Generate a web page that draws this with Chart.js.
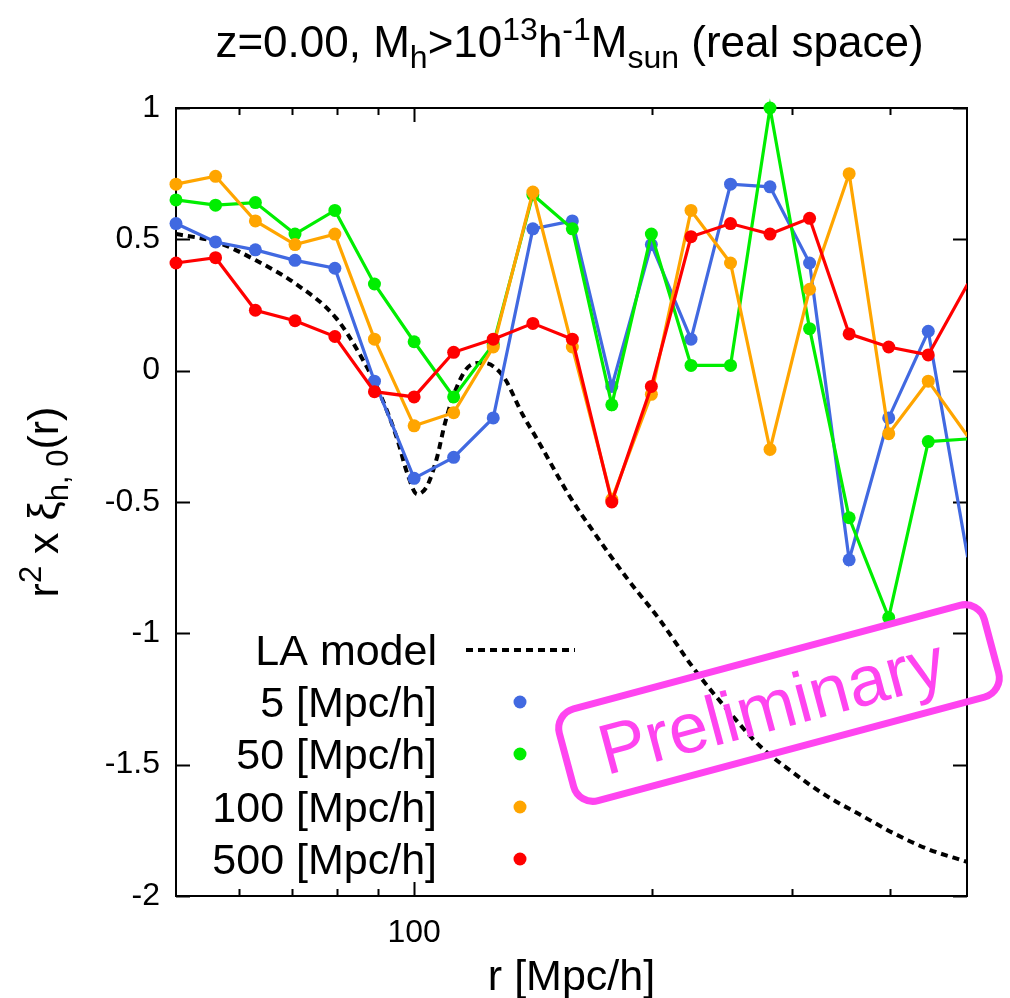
<!DOCTYPE html>
<html>
<head>
<meta charset="utf-8">
<script src="https://cdn.jsdelivr.net/npm/chart.js@4.4.1/dist/chart.umd.min.js"></script>
<style>
  body { margin: 0; background: #fff; }
  canvas { display: block; }
</style>
</head>
<body>
<canvas id="myChart" width="1010" height="998"></canvas>
<script>
// r bins [Mpc/h] (log spaced), the last one sits just past the axis end
const rBins = [50, 56.1, 63.0, 70.7, 79.4, 89.1, 100, 112.2, 125.9, 141.3, 158.5,
  177.8, 199.5, 223.9, 251.2, 281.8, 316.2, 354.8, 398.1, 446.7, 501];

// r^2 x xi for each smoothing scale
const xi5 = [0.56, 0.49, 0.46, 0.42, 0.39, -0.04, -0.41, -0.33, -0.18, 0.54, 0.57,
  -0.06, 0.48, 0.12, 0.71, 0.70, 0.41, -0.72, -0.18, 0.15, -0.71];
const xi50 = [0.65, 0.63, 0.64, 0.52, 0.61, 0.33, 0.11, -0.10, 0.10, 0.67, 0.54,
  -0.13, 0.52, 0.02, 0.02, 1.00, 0.16, -0.56, -0.94, -0.27, -0.26];
const xi100 = [0.71, 0.74, 0.57, 0.48, 0.52, 0.12, -0.21, -0.16, 0.09, 0.68, 0.09,
  -0.49, -0.09, 0.61, 0.41, -0.30, 0.31, 0.75, -0.24, -0.04, -0.25];
const xi500 = [0.41, 0.43, 0.23, 0.19, 0.13, -0.08, -0.10, 0.07, 0.12, 0.18, 0.12,
  -0.50, -0.06, 0.51, 0.56, 0.52, 0.58, 0.14, 0.09, 0.06, 0.33];

// LA model curve
const laR = [50, 56.2, 63.1, 70.9, 79.7, 86.2, 90.6, 95.2, 98.0, 100.9, 103.8, 106.9,
  109.4, 113.3, 117.7, 122.2, 129.5, 137.3, 143.0, 157.4, 168.3, 185.8, 204.6, 225.2,
  248.7, 273.8, 301.3, 332.6, 366.1, 403.2, 445.1, 500];
const laXi = [0.52, 0.49, 0.42, 0.33, 0.20, 0.04, -0.09, -0.26, -0.39, -0.47, -0.44, -0.33,
  -0.20, -0.06, 0.02, 0.03, -0.02, -0.17, -0.26, -0.48, -0.61, -0.79, -0.95, -1.13,
  -1.29, -1.43, -1.53, -1.62, -1.69, -1.76, -1.82, -1.87];

const xTicks = [60, 70, 80, 90, 100, 200, 300, 400];
const xMin = 50, xMax = 500;

const labels = ["5 [Mpc/h]", "50 [Mpc/h]", "100 [Mpc/h]", "500 [Mpc/h]"];
const colors = ["rgb(65,105,225)", "rgb(0,238,0)", "rgb(255,165,0)", "rgb(255,0,0)"];
const series = [xi5, xi50, xi100, xi500];

const FONT = "'Liberation Sans', Arial, sans-serif";

function pts(xs, ys) {
  return xs.map((x, i) => ({ x: x, y: ys[i] }));
}

const datasets = series.map((ys, i) => ({
  label: labels[i],
  data: pts(rBins, ys),
  borderColor: colors[i],
  backgroundColor: colors[i],
  pointBackgroundColor: colors[i],
  pointBorderWidth: 0,
  borderWidth: 3.2,
  // points outside the x range are not drawn
  pointRadius: (ctx) => (ctx.raw && ctx.raw.x > xMax ? 0 : 6.5),
  tension: 0,
  order: 4 - i,
  clip: { left: false, top: false, right: 0, bottom: false }
}));

datasets.push({
  label: "LA model",
  data: pts(laR, laXi),
  borderColor: "#000",
  borderWidth: 4,
  borderDash: [7, 5],
  pointRadius: 0,
  cubicInterpolationMode: "monotone",
  order: 10
});

// draw text with sub/superscripts; parts: {t, s, dy}
function richWidth(ctx, parts) {
  let w = 0;
  parts.forEach(p => { ctx.font = p.s + "px " + FONT; w += ctx.measureText(p.t).width; });
  return w;
}
function drawRich(ctx, parts, cx, y) {
  let x = cx - richWidth(ctx, parts) / 2;
  ctx.textAlign = "left";
  ctx.textBaseline = "alphabetic";
  parts.forEach(p => {
    ctx.font = p.s + "px " + FONT;
    ctx.fillText(p.t, x, y + (p.dy || 0));
    x += ctx.measureText(p.t).width;
  });
}

const decor = {
  id: "decor",
  beforeDatasetsDraw(chart) {
    const { ctx, chartArea: a, scales } = chart;
    ctx.save();
    ctx.strokeStyle = "#000";
    ctx.lineWidth = 2;
    ctx.strokeRect(a.left, a.top, a.right - a.left, a.bottom - a.top);
    ctx.beginPath();
    scales.y.ticks.forEach(t => {
      const y = Math.round(scales.y.getPixelForValue(t.value)) + 0.5;
      ctx.moveTo(a.left, y); ctx.lineTo(a.left + 14, y);
      ctx.moveTo(a.right, y); ctx.lineTo(a.right - 14, y);
    });
    xTicks.forEach(v => {
      const x = Math.round(scales.x.getPixelForValue(v)) + 0.5;
      const len = v === 100 ? 14 : 7;
      ctx.moveTo(x, a.bottom); ctx.lineTo(x, a.bottom - len);
      ctx.moveTo(x, a.top); ctx.lineTo(x, a.top + len);
    });
    ctx.stroke();
    ctx.restore();
  },
  afterDraw(chart) {
    const { ctx, chartArea: a } = chart;
    const cx = (a.left + a.right) / 2;
    ctx.save();
    ctx.fillStyle = "#000";

    // title
    drawRich(ctx, [
      { t: "z=0.00, M", s: 44 }, { t: "h", s: 32, dy: 11 }, { t: ">10", s: 44 },
      { t: "13", s: 32, dy: -17 }, { t: "h", s: 44 }, { t: "-1", s: 32, dy: -17 },
      { t: "M", s: 44 }, { t: "sun", s: 32, dy: 11 }, { t: " (real space)", s: 44 }
    ], cx - 2, 57);

    // x axis title
    ctx.font = "43px " + FONT;
    ctx.textAlign = "center";
    ctx.fillText("r [Mpc/h]", cx, 990);

    // y axis title
    ctx.save();
    ctx.translate(58, (a.top + a.bottom) / 2);
    ctx.rotate(-Math.PI / 2);
    drawRich(ctx, [
      { t: "r", s: 43 }, { t: "2", s: 31, dy: -17 }, { t: " x ξ", s: 43 },
      { t: "h, 0", s: 31, dy: 10 }, { t: "(r)", s: 43 }
    ], 0, 0);
    ctx.restore();

    // legend
    const textRight = 437, markX = 520;
    const rowY = [650, 702, 754, 807, 859];
    ctx.font = "43px " + FONT;
    ctx.textAlign = "right";
    ctx.textBaseline = "alphabetic";
    ctx.fillText("LA model", textRight, rowY[0] + 15);
    ctx.beginPath();
    ctx.setLineDash([7, 5]);
    ctx.lineWidth = 4;
    ctx.strokeStyle = "#000";
    ctx.moveTo(466, rowY[0]); ctx.lineTo(575, rowY[0]);
    ctx.stroke();
    ctx.setLineDash([]);
    labels.forEach((lab, i) => {
      const y = rowY[i + 1];
      ctx.fillStyle = "#000";
      ctx.fillText(lab, textRight, y + 15);
      ctx.fillStyle = colors[i];
      ctx.beginPath();
      ctx.arc(markX, y, 6.5, 0, Math.PI * 2);
      ctx.fill();
    });

    // "Preliminary" stamp
    const magenta = "rgb(255,68,240)";
    ctx.translate(779, 703);
    ctx.rotate(-15 * Math.PI / 180);
    ctx.strokeStyle = magenta;
    ctx.lineWidth = 7;
    ctx.beginPath();
    ctx.roundRect(-220, -47.5, 440, 95, 20);
    ctx.stroke();
    ctx.fillStyle = magenta;
    ctx.font = "71px " + FONT;
    ctx.textAlign = "center";
    ctx.fillText("Preliminary", -8, 25);
    ctx.restore();
  }
};

const config = {
  type: "line",
  data: { datasets: datasets },
  options: {
    responsive: false,
    animation: false,
    events: [],
    layout: { padding: { top: 108, right: 43, bottom: 0, left: 0 } },
    plugins: { legend: { display: false }, tooltip: { enabled: false } },
    scales: {
      x: {
        type: "logarithmic",
        min: xMin,
        max: xMax,
        grid: { display: false, drawTicks: false },
        border: { display: false },
        afterBuildTicks: (scale) => { scale.ticks = xTicks.map(v => ({ value: v })); },
        afterFit: (scale) => { scale.height = 102; },
        ticks: {
          autoSkip: false,
          maxRotation: 0,
          padding: 18,
          color: "#000",
          font: { family: FONT, size: 32 },
          callback: (v) => (v === 100 ? "100" : "")
        }
      },
      y: {
        min: -2,
        max: 1,
        grid: { display: false, drawTicks: false },
        border: { display: false },
        afterFit: (scale) => { scale.width = 176; },
        ticks: {
          stepSize: 0.5,
          padding: 16,
          color: "#000",
          font: { family: FONT, size: 32 },
          callback: (v) => String(Math.round(v * 10) / 10)
        }
      }
    }
  },
  plugins: [decor]
};

const myChart = new Chart(document.getElementById("myChart"), config);
</script>
</body>
</html>
